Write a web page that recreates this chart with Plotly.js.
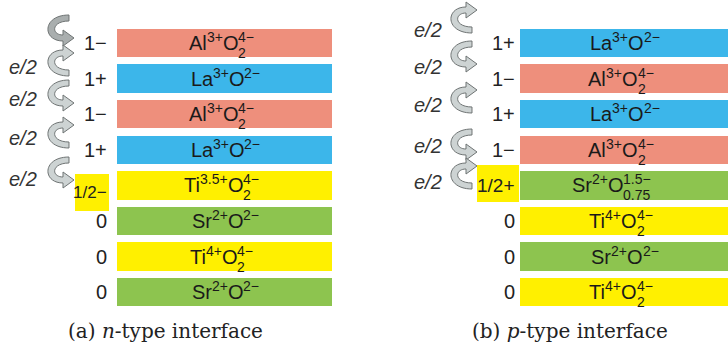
<!DOCTYPE html>
<html><head><meta charset="utf-8">
<script src="https://cdn.plot.ly/plotly-3.0.1.min.js"></script>
<style>html,body{margin:0;padding:0;background:#fff;}</style>
</head><body><div id="chart" style="width:728px;height:348px;"></div>
<script>
// ---------- data ----------
const rows = [0, 1, 2, 3, 4, 5, 6, 7];
const layerWidth = [1, 1, 1, 1, 1, 1, 1, 1];

// (a) n-type interface, top to bottom
const nCation = ['Al', 'La', 'Al', 'La', 'Ti', 'Sr', 'Ti', 'Sr'];
const nCationCharge = ['3+', '3+', '3+', '3+', '3.5+', '2+', '4+', '2+'];
const nOxygenCount = ['2', '', '2', '', '2', '', '2', ''];
const nOxygenCharge = ['4−', '2−', '4−', '2−', '4−', '2−', '4−', '2−'];
const nLayerCharge = ['1−', '1+', '1−', '1+', '1/2−', '0', '0', '0'];

// (b) p-type interface, top to bottom
const pCation = ['La', 'Al', 'La', 'Al', 'Sr', 'Ti', 'Sr', 'Ti'];
const pCationCharge = ['3+', '3+', '3+', '3+', '2+', '4+', '2+', '4+'];
const pOxygenCount = ['', '2', '', '2', '0.75', '2', '', '2'];
const pOxygenCharge = ['2−', '4−', '2−', '4−', '1.5−', '4−', '2−', '4−'];
const pLayerCharge = ['1+', '1−', '1+', '1−', '1/2+', '0', '0', '0'];

const transferLabel = 'e/2';
const captions = ['(a) <i>n</i>-type interface', '(b) <i>p</i>-type interface'];

// ---------- style ----------
const layerColor = {Al: '#EE8F7C', La: '#3CB6EA', Ti: '#FFF000', Sr: '#8DC44F'};
const W = 728, H = 348;
const top0 = 25.2, pitch = 35.6;
const sans = 'Liberation Sans Narrow, Liberation Sans, Arial, sans-serif';
const serif = 'DejaVu Serif, Liberation Serif, serif';
const fx = x => x / W;
const fy = y => 1 - y / H;
const MAIN = 20, SMALL = 14;

const ctx = document.createElement('canvas').getContext('2d');
function textW(t, size) {
  ctx.font = size + 'px "Liberation Sans Narrow", "Liberation Sans", Arial, sans-serif';
  return ctx.measureText(t).width;
}

function barTrace(cations, xa) {
  return {
    type: 'bar', orientation: 'h', y: rows, x: layerWidth, width: 0.8,
    marker: {color: cations.map(c => layerColor[c]), line: {width: 0}},
    xaxis: xa, yaxis: 'y', hoverinfo: 'skip', showlegend: false
  };
}

const annotations = [];
const shapes = [];

function piece(xa, i, text, size, dx, dy) {
  annotations.push({xref: xa, yref: 'y', x: 0.5, y: rows[i], xshift: dx, yshift: dy,
    xanchor: 'left', yanchor: 'middle', showarrow: false, text: text, borderpad: 0,
    font: {family: sans, size: size, color: '#1a1a1a'}});
}

function layerLabels(cations, cc, oc, och, xa) {
  cations.forEach((c, i) => {
    const w1 = textW(c, MAIN), w2 = textW(cc[i], SMALL), w3 = textW('O', MAIN);
    const w4 = oc[i] ? textW(oc[i], SMALL) : 0, w5 = textW(och[i], SMALL);
    let x = -(w1 + w2 + w3 + w4 + w5) / 2;
    piece(xa, i, c, MAIN, x, 0); x += w1;
    piece(xa, i, cc[i], SMALL, x, 6); x += w2;
    piece(xa, i, 'O', MAIN, x, 0); x += w3;
    if (oc[i]) piece(xa, i, oc[i], SMALL, x, -10);
    piece(xa, i, och[i], SMALL, x, 6);
  });
}
layerLabels(nCation, nCationCharge, nOxygenCount, nOxygenCharge, 'x');
layerLabels(pCation, pCationCharge, pOxygenCount, pOxygenCharge, 'x2');

function chargeLabels(charges, barLeft, xshift, halfShift, halfSize) {
  charges.forEach((t, i) => {
    const half = t.indexOf('/') >= 0;
    annotations.push({xref: 'paper', yref: 'y', x: fx(barLeft), y: rows[i], xanchor: 'right',
      yanchor: 'middle', xshift: xshift, yshift: half ? halfShift : 0,
      showarrow: false, text: t, font: {family: sans, size: half ? halfSize : MAIN, color: '#222'}});
  });
}
chargeLabels(nLayerCharge, 117, -8, -7, 17);
chargeLabels(pLayerCharge, 520, -3, 0, 19);

// highlight boxes behind the half charges
shapes.push({type: 'rect', xref: 'paper', yref: 'paper', x0: fx(75), x1: fx(109), y0: fy(211), y1: fy(174),
  fillcolor: '#FFF000', line: {width: 0}, layer: 'below'});
shapes.push({type: 'rect', xref: 'paper', yref: 'paper', x0: fx(477), x1: fx(519), y0: fy(202), y1: fy(165),
  fillcolor: '#FFF000', line: {width: 0}, layer: 'below'});

// curved transfer arrows
function arrowPath(cx, cy, dir) {
  const pts = [[9, -14], [-18, -14], [-18, 12], [3, 12], [3, 17], [14, 9], [3, 1], [3, 6], [-9, 6], [-9, -8], [9, -8]]
    .map(p => fx(cx + p[0]).toFixed(5) + ',' + fy(cy + dir * p[1]).toFixed(5));
  return 'M' + pts[0] + ' C' + pts[1] + ' ' + pts[2] + ' ' + pts[3] +
    ' L' + pts[4] + ' L' + pts[5] + ' L' + pts[6] + ' L' + pts[7] +
    ' C' + pts[8] + ' ' + pts[9] + ' ' + pts[10] + ' Z';
}
const leftArrows = [[60, 29, 1], [60, 62, -1], [60, 94, 1], [60, 134, -1], [60, 171, 1]];
const rightArrows = [[463, 19, -1], [463, 55, 1], [463, 99, -1], [463, 143, 1], [463, 175, -1]];
leftArrows.concat(rightArrows).forEach((a, k) => {
  shapes.push({type: 'path', xref: 'paper', yref: 'paper', path: arrowPath(a[0], a[1], a[2]),
    fillcolor: k === 0 ? '#A9AEAE' : '#CDD3D3', line: {color: '#6F7474', width: 1}, layer: 'above'});
});

// e/2 labels
[67, 99, 138, 179].forEach(y => annotations.push({xref: 'paper', yref: 'paper', x: fx(23), y: fy(y),
  xanchor: 'center', yanchor: 'middle', showarrow: false, text: '<i>' + transferLabel + '</i>',
  font: {family: sans, size: 20, color: '#333'}}));
[30, 67, 105, 146, 182].forEach(y => annotations.push({xref: 'paper', yref: 'paper', x: fx(428), y: fy(y),
  xanchor: 'center', yanchor: 'middle', showarrow: false, text: '<i>' + transferLabel + '</i>',
  font: {family: sans, size: 20, color: '#333'}}));

// captions
[[165, captions[0]], [570, captions[1]]].forEach(c => annotations.push({xref: 'paper', yref: 'paper',
  x: fx(c[0]), y: fy(331), xanchor: 'center', yanchor: 'middle', showarrow: false, text: c[1],
  font: {family: serif, size: 20, color: '#222'}}));

const layout = {
  width: W, height: H, margin: {l: 0, r: 0, t: 0, b: 0},
  paper_bgcolor: '#fff', plot_bgcolor: 'rgba(0,0,0,0)', showlegend: false, bargap: 0,
  xaxis: {domain: [fx(117), fx(332)], range: [0, 1], visible: false, fixedrange: true, anchor: 'y'},
  xaxis2: {domain: [fx(520), fx(728)], range: [0, 1], visible: false, fixedrange: true, anchor: 'y'},
  yaxis: {domain: [fy(top0 + 8 * pitch), fy(top0)], range: [7.5, -0.5], visible: false, fixedrange: true},
  annotations: annotations, shapes: shapes
};
Plotly.newPlot('chart', [barTrace(nCation, 'x'), barTrace(pCation, 'x2')], layout,
  {displayModeBar: false, staticPlot: true});
</script></body></html>
